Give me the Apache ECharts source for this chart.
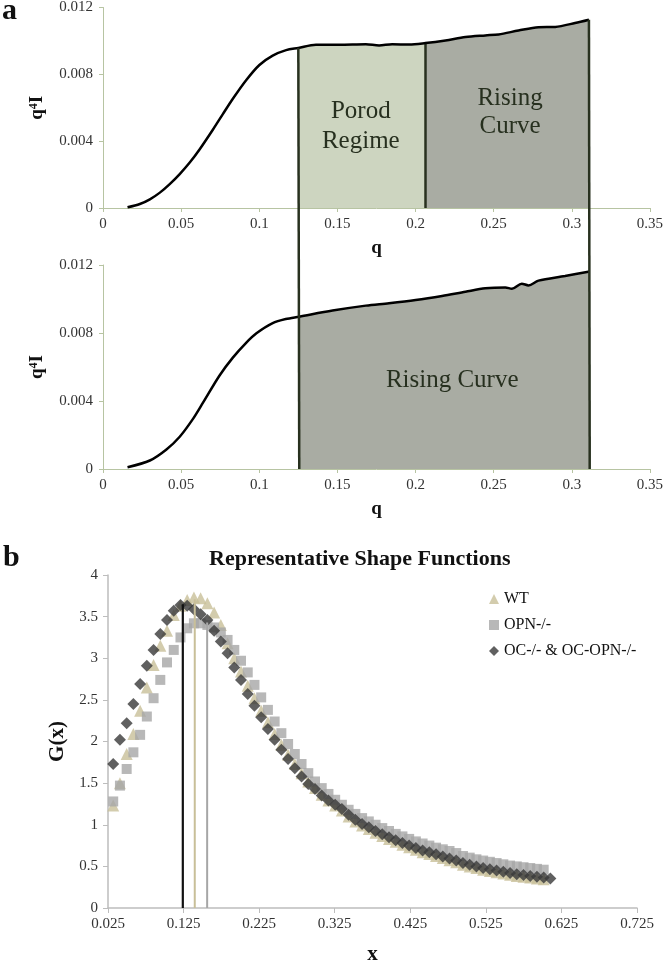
<!DOCTYPE html>
<html>
<head>
<meta charset="utf-8">
<script src="https://cdn.jsdelivr.net/npm/echarts@6/dist/echarts.min.js"></script>
<style>
  html, body { margin: 0; padding: 0; background: #fff; }
  #chart { width: 666px; height: 966px; }
</style>
</head>
<body>
<div id="chart"></div>
<script>
// panel a, upper plot: q^4 I against q
const qTop = [0.0157, 0.0236, 0.030, 0.0364, 0.0427, 0.0491, 0.0555, 0.0619, 0.0704, 0.0767, 0.0831, 0.0916,
  0.1001, 0.1086, 0.1172, 0.125, 0.1363, 0.1511, 0.1682, 0.1767, 0.1851, 0.1960, 0.2064, 0.2192, 0.2320,
  0.2447, 0.2532, 0.2659, 0.2787, 0.2894, 0.3021, 0.311];
const iTop = [0.00004, 0.00024, 0.00052, 0.00092, 0.00143, 0.00203, 0.00272, 0.00352, 0.0047, 0.00562, 0.00654, 0.00765,
  0.00856, 0.00912, 0.00945, 0.00958, 0.00977, 0.00977, 0.0098, 0.00973, 0.0098, 0.00978, 0.00987, 0.01003, 0.01023,
  0.01033, 0.01039, 0.01062, 0.01082, 0.01084, 0.01107, 0.01127];

// panel a, lower plot
const qMid = [0.0157, 0.030, 0.0406, 0.0491, 0.0576, 0.064, 0.0746, 0.0831, 0.0916, 0.0982, 0.1086, 0.117, 0.1256,
  0.1469, 0.1682, 0.183, 0.2001, 0.217, 0.232, 0.2447, 0.2575, 0.2617, 0.268, 0.2723, 0.2787, 0.2957, 0.3115];
const iMid = [0.0001, 0.0005, 0.00115, 0.0019, 0.00295, 0.0039, 0.0055, 0.00655, 0.00742, 0.00798, 0.00858, 0.00882, 0.00896,
  0.00932, 0.00961, 0.00975, 0.00994, 0.01018, 0.01043, 0.01063, 0.01068, 0.0106, 0.0109, 0.0108, 0.01108, 0.01135, 0.01162];

// region bounds (q)
const porodStart = 0.125, porodEnd = 0.2064, risingEnd = 0.311;
const midStart = 0.1256, midEnd = 0.3115;

// panel b: shape functions
const xVals = [0.0319, 0.0408, 0.0497, 0.0586, 0.0675, 0.0764, 0.0853, 0.0942, 0.1031, 0.112, 0.1209, 0.1298,
  0.1387, 0.1476, 0.1565, 0.1654, 0.1743, 0.1832, 0.1921, 0.201, 0.2099, 0.2188, 0.2277, 0.2366, 0.2455, 0.2544,
  0.2633, 0.2722, 0.2811, 0.29, 0.2989, 0.3078, 0.3167, 0.3256, 0.3345, 0.3434, 0.3523, 0.3612, 0.3701, 0.379,
  0.3879, 0.3968, 0.4057, 0.4146, 0.4235, 0.4324, 0.4413, 0.4502, 0.4591, 0.468, 0.4769, 0.4858, 0.4947, 0.5036,
  0.5125, 0.5214, 0.5303, 0.5392, 0.5481, 0.557, 0.5659, 0.5748, 0.5837, 0.5926, 0.6015, 0.6104];
const gWT = [1.23, 1.50, 1.85, 2.09, 2.37, 2.65, 2.92, 3.15, 3.33, 3.52, 3.63, 3.70, 3.73, 3.72, 3.66, 3.55, 3.40,
  3.18, 3.00, 2.84, 2.67, 2.52, 2.37, 2.23, 2.09, 1.96, 1.84, 1.73, 1.62, 1.52, 1.44, 1.36, 1.29, 1.23, 1.17,
  1.10, 1.04, 0.99, 0.95, 0.905, 0.865, 0.83, 0.795, 0.76, 0.73, 0.70, 0.67, 0.65, 0.625, 0.60, 0.575, 0.55, 0.52,
  0.50, 0.48, 0.46, 0.445, 0.43, 0.415, 0.40, 0.385, 0.375, 0.365, 0.355, 0.345];
const gOPN = [1.28, 1.47, 1.67, 1.87, 2.08, 2.30, 2.52, 2.74, 2.95, 3.10, 3.25, 3.36, 3.42, 3.42, 3.40, 3.37, 3.31,
  3.22, 3.10, 2.97, 2.83, 2.68, 2.53, 2.38, 2.24, 2.10, 1.97, 1.85, 1.73, 1.62, 1.52, 1.44, 1.37, 1.30, 1.24,
  1.18, 1.13, 1.08, 1.04, 1.00, 0.96, 0.925, 0.89, 0.86, 0.83, 0.80, 0.775, 0.75, 0.725, 0.705, 0.685, 0.66, 0.625,
  0.605, 0.585, 0.57, 0.555, 0.54, 0.525, 0.51, 0.50, 0.49, 0.48, 0.47, 0.46];
const gOC = [1.73, 2.02, 2.22, 2.45, 2.69, 2.91, 3.10, 3.29, 3.46, 3.57, 3.64, 3.63, 3.59, 3.53, 3.46, 3.33, 3.20,
  3.06, 2.89, 2.74, 2.57, 2.43, 2.29, 2.15, 2.02, 1.90, 1.79, 1.68, 1.58, 1.49, 1.43, 1.35, 1.29, 1.24, 1.19,
  1.12, 1.06, 1.01, 0.97, 0.925, 0.885, 0.85, 0.815, 0.78, 0.75, 0.72, 0.69, 0.67, 0.645, 0.62, 0.595, 0.57, 0.54,
  0.52, 0.50, 0.48, 0.465, 0.45, 0.435, 0.42, 0.405, 0.395, 0.385, 0.375, 0.365, 0.355];
const seriesNames = ['WT', 'OPN-/-', 'OC-/- & OC-OPN-/-'];
// peak markers (WT, OPN, OC)
const peakX = [0.1398, 0.1562, 0.124];
const peakG = [3.71, 3.43, 3.65];
const xTicksB = [0.025, 0.125, 0.225, 0.325, 0.425, 0.525, 0.625, 0.725];

const FONT = '"Liberation Serif", "Times New Roman", serif';
const olive = '#b7c4a2';
const edge = '#28311f';

function pairs(xs, ys) {
  return xs.map((x, i) => [x, ys[i]]);
}
function region(xs, ys, a, b) {
  return pairs(xs, ys).filter(p => p[0] >= a - 1e-9 && p[0] <= b + 1e-9);
}
function valueAt(xs, ys, x) {
  return ys[xs.indexOf(x)];
}

function qAxes(gridIndex) {
  return {
    x: {
      type: 'value', gridIndex: gridIndex, min: 0, max: 0.35, interval: 0.05,
      name: 'q', nameLocation: 'middle', nameGap: 31,
      nameTextStyle: { fontFamily: FONT, fontWeight: 'bold', fontSize: 19, color: '#111' },
      axisLine: { show: true, onZero: false, lineStyle: { color: olive, width: 1 } },
      axisTick: { show: true, length: 4, lineStyle: { color: olive } },
      axisLabel: { fontFamily: FONT, fontSize: 15, color: '#333', margin: 9 },
      splitLine: { show: false }
    },
    y: {
      type: 'value', gridIndex: gridIndex, min: 0, max: 0.012, interval: 0.004,
      name: 'q{s|4}I', nameLocation: 'middle', nameGap: 56,
      nameTextStyle: {
        fontFamily: FONT, fontWeight: 'bold', fontSize: 19, color: '#111',
        rich: { s: { fontFamily: FONT, fontWeight: 'bold', fontSize: 12, color: '#111', verticalAlign: 'top', padding: [0, 0, 6, 0] } }
      },
      axisLine: { show: true, lineStyle: { color: olive, width: 1 } },
      axisTick: { show: true, length: 4, lineStyle: { color: olive } },
      axisLabel: { fontFamily: FONT, fontSize: 15, color: '#333', margin: 10 },
      splitLine: { show: false }
    }
  };
}

const topAx = qAxes(0);
const midAx = qAxes(1);

function regionLabel(coord, text, size, lh) {
  return {
    symbol: 'circle', symbolSize: 0, silent: true,
    itemStyle: { color: 'rgba(0,0,0,0)' },
    label: { show: true, position: 'inside', fontFamily: FONT, fontSize: size, lineHeight: lh, color: '#27301f' },
    data: [{ coord: coord, value: text, label: { formatter: text } }]
  };
}

var myChart = echarts.init(document.getElementById('chart'));

var option = {
  animation: false,
  backgroundColor: '#fff',
  textStyle: { fontFamily: FONT },
  title: {
    text: 'Representative Shape Functions',
    left: 204, top: 543,
    textStyle: { fontFamily: FONT, fontWeight: 'bold', fontSize: 22, color: '#111' }
  },
  legend: {
    data: seriesNames,
    orient: 'vertical', left: 484, top: 586, itemGap: 10,
    itemWidth: 10, itemHeight: 10,
    textStyle: { fontFamily: FONT, fontSize: 16, color: '#111' }
  },
  grid: [
    { left: 103, top: 5, width: 549, height: 203 },
    { left: 103, top: 265, width: 549, height: 204 },
    { left: 108, top: 575, width: 529, height: 339 }
  ],
  xAxis: [topAx.x, midAx.x, {
    type: 'value', gridIndex: 2, min: 0.025, max: 0.725,
    name: 'x', nameLocation: 'middle', nameGap: 36,
    nameTextStyle: { fontFamily: FONT, fontWeight: 'bold', fontSize: 21, color: '#111' },
    axisLine: { show: true, onZero: false, lineStyle: { color: '#bdbdbd', width: 1.5 } },
    axisTick: { show: true, length: 5, customValues: xTicksB, lineStyle: { color: '#bdbdbd' } },
    axisLabel: { fontFamily: FONT, fontSize: 15, color: '#333', margin: 9, customValues: xTicksB,
      formatter: v => v.toFixed(3) },
    splitLine: { show: false }
  }],
  yAxis: [topAx.y, midAx.y, {
    type: 'value', gridIndex: 2, min: 0, max: 4, interval: 0.5,
    name: 'G(x)', nameLocation: 'middle', nameGap: 34,
    nameTextStyle: { fontFamily: FONT, fontWeight: 'bold', fontSize: 21, color: '#111' },
    axisLine: { show: true, lineStyle: { color: '#bdbdbd', width: 1.5 } },
    axisTick: { show: true, length: 5, lineStyle: { color: '#bdbdbd' } },
    axisLabel: { fontFamily: FONT, fontSize: 15, color: '#333', margin: 10 },
    splitLine: { show: false }
  }],
  graphic: [
    { id: 'la', type: 'text', left: 2, top: -4, style: { text: 'a', fontFamily: FONT, fontWeight: 'bold', fontSize: 30, fill: '#111' } },
    { id: 'lb', type: 'text', left: 3, top: 543, style: { text: 'b', fontFamily: FONT, fontWeight: 'bold', fontSize: 30, fill: '#111' } }
  ],
  series: [
    // upper plot: shaded regions
    {
      type: 'line', xAxisIndex: 0, yAxisIndex: 0, data: region(qTop, iTop, porodStart, porodEnd),
      symbol: 'none', smooth: 0.3, lineStyle: { width: 0 },
      areaStyle: { color: '#cdd5c0', opacity: 1 },
      markPoint: regionLabel([0.165, 0.0049], 'Porod\nRegime', 25, 30)
    },
    {
      type: 'line', xAxisIndex: 0, yAxisIndex: 0, data: region(qTop, iTop, porodEnd, risingEnd),
      symbol: 'none', smooth: 0.3, lineStyle: { width: 0 },
      areaStyle: { color: '#a9aca3', opacity: 1 },
      markPoint: regionLabel([0.2605, 0.0057], 'Rising\nCurve', 25, 28)
    },
    {
      type: 'line', xAxisIndex: 0, yAxisIndex: 0,
      data: [[porodEnd, valueAt(qTop, iTop, porodEnd)], [porodEnd, 0]],
      symbol: 'none', lineStyle: { color: edge, width: 2.5 }
    },
    {
      type: 'line', xAxisIndex: 0, yAxisIndex: 0, data: pairs(qTop, iTop),
      symbol: 'none', smooth: 0.3, lineStyle: { color: '#000', width: 2.5 }, z: 4
    },
    // lower plot
    {
      type: 'line', xAxisIndex: 1, yAxisIndex: 1, data: region(qMid, iMid, midStart, midEnd),
      symbol: 'none', smooth: 0.3, lineStyle: { width: 0 },
      areaStyle: { color: '#a9aca3', opacity: 1 },
      markPoint: regionLabel([0.2235, 0.0052], 'Rising Curve', 25, 28)
    },
    {
      type: 'line', xAxisIndex: 1, yAxisIndex: 1, data: pairs(qMid, iMid),
      symbol: 'none', smooth: 0.3, lineStyle: { color: '#000', width: 2.5 }, z: 4
    },
    // panel b
    {
      name: seriesNames[0], type: 'scatter', xAxisIndex: 2, yAxisIndex: 2, data: pairs(xVals, gWT),
      symbol: 'triangle', symbolSize: 12, itemStyle: { color: '#c8bf98' }
    },
    {
      name: seriesNames[1], type: 'scatter', xAxisIndex: 2, yAxisIndex: 2, data: pairs(xVals, gOPN),
      symbol: 'rect', symbolSize: 10, itemStyle: { color: '#a6a6a6' }
    },
    {
      name: seriesNames[2], type: 'scatter', xAxisIndex: 2, yAxisIndex: 2, data: pairs(xVals, gOC),
      symbol: 'diamond', symbolSize: 12, itemStyle: { color: '#383838' }
    },
    {
      type: 'line', xAxisIndex: 2, yAxisIndex: 2, data: [[peakX[0], 0], [peakX[0], peakG[0]]],
      symbol: 'none', lineStyle: { color: '#c8bf98', width: 2 }, z: 5
    },
    {
      type: 'line', xAxisIndex: 2, yAxisIndex: 2, data: [[peakX[1], 0], [peakX[1], peakG[1]]],
      symbol: 'none', lineStyle: { color: '#a6a6a6', width: 2 }, z: 5
    },
    {
      type: 'line', xAxisIndex: 2, yAxisIndex: 2, data: [[peakX[2], 0], [peakX[2], peakG[2]]],
      symbol: 'none', lineStyle: { color: '#111', width: 2.2 }, z: 5
    }
  ]
};

myChart.setOption(option);

// connector lines running from the upper curve down to the lower plot's axis
const a1 = myChart.convertToPixel({ gridIndex: 0 }, [porodStart, valueAt(qTop, iTop, porodStart)]);
const a2 = myChart.convertToPixel({ gridIndex: 1 }, [midStart, 0]);
const b1 = myChart.convertToPixel({ gridIndex: 0 }, [risingEnd, valueAt(qTop, iTop, risingEnd)]);
const b2 = myChart.convertToPixel({ gridIndex: 1 }, [midEnd, 0]);

myChart.setOption({
  graphic: [
    { id: 'c1', type: 'line', z: 20, shape: { x1: a1[0], y1: a1[1], x2: a2[0], y2: a2[1] }, style: { stroke: edge, lineWidth: 2.5 } },
    { id: 'c2', type: 'line', z: 20, shape: { x1: b1[0], y1: b1[1], x2: b2[0], y2: b2[1] }, style: { stroke: edge, lineWidth: 2.5 } }
  ]
});
</script>
</body>
</html>
